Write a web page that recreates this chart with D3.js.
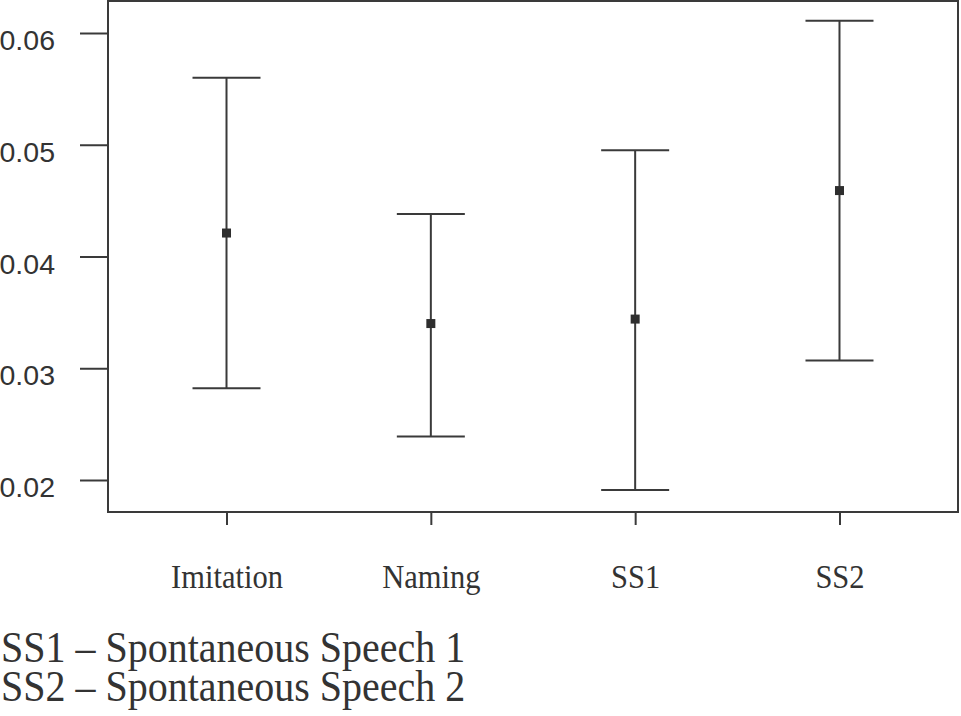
<!DOCTYPE html>
<html><head><meta charset="utf-8">
<script src="https://cdn.jsdelivr.net/npm/d3@7"></script>
<style>
html,body{margin:0;padding:0;background:#fff;}
svg{display:block;}
</style></head>
<body>
<script>
const categories = ["Imitation", "Naming", "SS1", "SS2"];
const means = [0.0421, 0.0340, 0.0344, 0.0459];
const lower = [0.0282, 0.0239, 0.0191, 0.0307];
const upper = [0.0560, 0.0438, 0.0495, 0.0611];
const yTicks = [0.02, 0.03, 0.04, 0.05, 0.06];
const notes = ["SS1 \u2013 Spontaneous Speech 1", "SS2 \u2013 Spontaneous Speech 2"];

const W = 961, H = 716;
const box = {left: 108, right: 958, top: 1, bottom: 512};
const ink = "#3a3a3a";
const serif = "Liberation Serif, 'Times New Roman', serif";

const svg = d3.select("body").append("svg").attr("width", W).attr("height", H);

const y = d3.scaleLinear().domain([0.02, 0.06]).range([480, 33]);
const x = d3.scalePoint().domain(categories).range([box.left, box.right]).padding(0.58);

// frame
svg.append("rect")
  .attr("x", box.left).attr("y", box.top)
  .attr("width", box.right - box.left).attr("height", box.bottom - box.top)
  .attr("fill", "none").attr("stroke", ink).attr("stroke-width", 2);

// y axis
const ya = svg.append("g").attr("transform", `translate(${box.left},0)`)
  .call(d3.axisLeft(y).tickValues(yTicks).tickFormat(d3.format(".2f")).tickSize(28).tickPadding(25));
ya.select(".domain").remove();
ya.selectAll("line").attr("stroke", ink).attr("stroke-width", 2);
ya.selectAll("text").attr("fill", "#333").attr("font-family", "Liberation Sans, Arial, sans-serif").attr("font-size", 28.5)
  .attr("dy", "0.58em");

// x axis
const sy = 1.08;
const xa = svg.append("g").attr("transform", `translate(0,${box.bottom})`)
  .call(d3.axisBottom(x).tickSize(13).tickPadding(10));
xa.select(".domain").remove();
xa.selectAll("line").attr("stroke", ink).attr("stroke-width", 2);
xa.selectAll("text").attr("fill", "#333").attr("font-family", serif).attr("font-size", 30.5)
  .attr("y", 76 / sy).attr("dy", null).attr("transform", `scale(1,${sy})`);

// error bars
const data = categories.map((c, i) => ({c, m: means[i], lo: lower[i], hi: upper[i]}));
const capW = 34;
const g = svg.append("g").attr("stroke", ink).attr("stroke-width", 2);
data.forEach(d => {
  const cx = x(d.c);
  g.append("line").attr("x1", cx).attr("x2", cx).attr("y1", y(d.hi)).attr("y2", y(d.lo));
  g.append("line").attr("x1", cx - capW).attr("x2", cx + capW).attr("y1", y(d.hi)).attr("y2", y(d.hi));
  g.append("line").attr("x1", cx - capW).attr("x2", cx + capW).attr("y1", y(d.lo)).attr("y2", y(d.lo));
});
svg.append("g").selectAll("rect").data(data).join("rect")
  .attr("x", d => x(d.c) - 4.5).attr("y", d => y(d.m) - 4.5)
  .attr("width", 9).attr("height", 9).attr("fill", "#2e2e2e");

// notes
const lsy = 1.1;
const nt = svg.append("text")
  .attr("transform", `translate(1,662) scale(1,${lsy})`)
  .attr("font-family", serif).attr("font-size", 40).attr("fill", "#333");
nt.selectAll("tspan").data(notes).join("tspan")
  .attr("x", 0).attr("y", (d, i) => i * 39 / lsy).text(d => d);
</script>
</body></html>
